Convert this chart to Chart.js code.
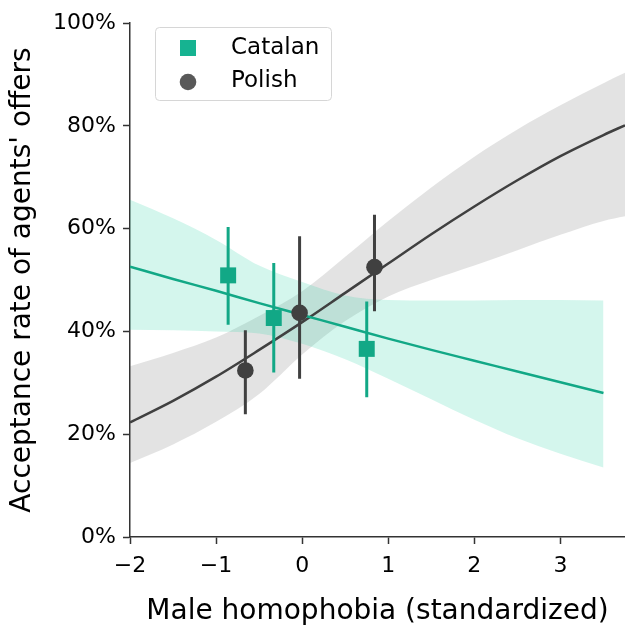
<!DOCTYPE html>
<html>
<head>
<meta charset="utf-8">
<script src="https://cdn.jsdelivr.net/npm/chart.js@4.4.0/dist/chart.umd.min.js"></script>
<style>
  body { margin: 0; background: #fff; }
</style>
</head>
<body>
<canvas id="chart" width="625" height="625"></canvas>
<script>
// fitted curves and confidence bands (percent)
var catGridX = [-2, -1.5, -1, -0.5, 0, 0.5, 1, 1.5, 2, 2.5, 3, 3.5];
var catFit   = [52.6, 50.2, 47.9, 45.5, 43.2, 40.9, 38.6, 36.4, 34.3, 32.2, 30.1, 28.0];
var catUpper = [65.6, 62.0, 57.8, 52.8, 49.6, 47.0, 46.1, 46.0, 46.0, 46.1, 46.1, 46.0];
var catLower = [40.3, 40.2, 40.0, 39.6, 37.6, 34.6, 30.8, 26.8, 22.8, 19.2, 16.2, 13.5];

var polGridX = [-2, -1.5, -1, -0.5, 0, 0.5, 1, 1.5, 2, 2.5, 3, 3.5, 3.75];
var polFit   = [22.3, 26.5, 31.2, 36.4, 41.8, 47.5, 53.2, 58.9, 64.3, 69.4, 74.1, 78.2, 80.1];
var polUpper = [33.2, 35.8, 38.8, 43.0, 47.8, 54.5, 61.5, 68.0, 74.0, 79.3, 84.0, 88.3, 90.3];
var polLower = [14.4, 18.0, 22.4, 27.8, 35.5, 42.0, 46.8, 50.0, 52.8, 55.8, 58.8, 61.5, 62.4];

// binned means with error bars
var catX  = [-0.86, -0.33, 0.75];
var catY  = [50.9, 42.6, 36.6];
var catLo = [41.3, 32.0, 27.2];
var catHi = [60.3, 53.3, 45.8];

var polX  = [-0.66, -0.03, 0.84];
var polY  = [32.4, 43.6, 52.5];
var polLo = [23.9, 30.8, 43.9];
var polHi = [40.2, 58.5, 62.7];

var xTicks = [-2, -1, 0, 1, 2, 3];
var yTicks = [0, 20, 40, 60, 80, 100];
var legendLabels = ["Catalan", "Polish"];

var teal = '#12a886';
var dark = '#404040';
var font = 'DejaVu Sans';

function toPoints(xs, ys){
  return xs.map(function(x, i){ return {x: x, y: ys[i]}; });
}

function errorBars(xs, lo, hi){
  var pts = [];
  for (var i = 0; i < xs.length; i++){
    pts.push({x: xs[i], y: lo[i]});
    pts.push({x: xs[i], y: hi[i]});
    pts.push({x: xs[i], y: null});
  }
  return pts;
}

// legend box drawn inside the plot, top left
var legendBox = {
  id: 'legendBox',
  afterDraw: function(chart){
    var ctx = chart.ctx;
    ctx.save();
    ctx.beginPath();
    ctx.roundRect(155.5, 27.5, 176, 73, 4);
    ctx.fillStyle = 'rgba(255,255,255,0.8)';
    ctx.fill();
    ctx.strokeStyle = '#d6d6d6';
    ctx.lineWidth = 1;
    ctx.stroke();

    ctx.fillStyle = '#16b391';
    ctx.fillRect(180, 40, 16, 16);
    ctx.beginPath();
    ctx.arc(188, 82, 8.3, 0, Math.PI * 2);
    ctx.fillStyle = '#595959';
    ctx.fill();

    ctx.fillStyle = '#000';
    ctx.font = '23px "' + font + '"';
    ctx.textBaseline = 'middle';
    ctx.fillText(legendLabels[0], 231, 48);
    ctx.fillText(legendLabels[1], 231, 81);
    ctx.restore();
  }
};

var ctx = document.getElementById('chart');
var chart = new Chart(ctx, {
  type: 'line',
  data: {
    datasets: [
      { // 0 polish band lower
        data: toPoints(polGridX, polLower),
        borderWidth: 0, pointRadius: 0, fill: false,
        cubicInterpolationMode: 'monotone', order: 20
      },
      { // 1 polish band upper
        data: toPoints(polGridX, polUpper),
        borderWidth: 0, pointRadius: 0,
        fill: '-1', backgroundColor: 'rgba(100,100,100,0.18)',
        cubicInterpolationMode: 'monotone', order: 19
      },
      { // 2 catalan band lower
        data: toPoints(catGridX, catLower),
        borderWidth: 0, pointRadius: 0, fill: false,
        cubicInterpolationMode: 'monotone', order: 18
      },
      { // 3 catalan band upper
        data: toPoints(catGridX, catUpper),
        borderWidth: 0, pointRadius: 0,
        fill: '-1', backgroundColor: 'rgba(38,208,166,0.2)',
        cubicInterpolationMode: 'monotone', order: 17
      },
      {
        data: toPoints(polGridX, polFit),
        borderColor: dark, borderWidth: 2.5, pointRadius: 0,
        cubicInterpolationMode: 'monotone', order: 10
      },
      {
        data: toPoints(catGridX, catFit),
        borderColor: teal, borderWidth: 2.5, pointRadius: 0,
        cubicInterpolationMode: 'monotone', order: 9
      },
      {
        data: errorBars(catX, catLo, catHi),
        borderColor: teal, borderWidth: 3, pointRadius: 0,
        spanGaps: false, order: 5
      },
      {
        data: errorBars(polX, polLo, polHi),
        borderColor: dark, borderWidth: 3, pointRadius: 0,
        spanGaps: false, order: 4
      },
      {
        label: legendLabels[0],
        data: toPoints(catX, catY),
        showLine: false, pointStyle: 'rect', pointRadius: 11.3,
        pointBackgroundColor: teal, pointBorderWidth: 0, order: 1
      },
      {
        label: legendLabels[1],
        data: toPoints(polX, polY),
        showLine: false, pointStyle: 'circle', pointRadius: 8.3,
        pointBackgroundColor: dark, pointBorderWidth: 0, order: 0
      }
    ]
  },
  options: {
    responsive: false,
    animation: false,
    layout: {
      autoPadding: false,
      padding: { top: 23, right: 0, left: 0, bottom: 0 }
    },
    plugins: {
      legend: { display: false },
      tooltip: { enabled: false }
    },
    scales: {
      x: {
        type: 'linear',
        min: -2,
        max: 3.75,
        afterFit: function(scale){
          scale.height = 88;
          scale.paddingLeft = 0;
          scale.paddingRight = 0;
        },
        afterBuildTicks: function(scale){
          scale.ticks = xTicks.map(function(v){ return {value: v}; });
        },
        ticks: {
          color: '#000',
          font: { family: font, size: 22 },
          padding: 9,
          maxRotation: 0,
          callback: function(v){ return String(v).replace('-', '\u2212'); }
        },
        grid: {
          drawOnChartArea: false, drawTicks: true,
          tickLength: 7, tickWidth: 1.5, tickColor: '#333'
        },
        border: { color: '#333', width: 1.5 },
        title: {
          display: true,
          text: 'Male homophobia (standardized)',
          color: '#000',
          font: { family: font, size: 28 },
          padding: { top: 0, bottom: -4 }
        }
      },
      y: {
        min: 0,
        max: 100,
        afterFit: function(scale){
          scale.width = 130;
          scale.paddingTop = 0;
          scale.paddingBottom = 0;
        },
        afterBuildTicks: function(scale){
          scale.ticks = yTicks.map(function(v){ return {value: v}; });
        },
        ticks: {
          color: '#000',
          font: { family: font, size: 22 },
          padding: 7,
          callback: function(v){ return v + '%'; }
        },
        grid: {
          drawOnChartArea: false, drawTicks: true,
          tickLength: 7, tickWidth: 1.5, tickColor: '#333'
        },
        border: { color: '#333', width: 1.5 },
        title: {
          display: true,
          text: "Acceptance rate of agents' offers",
          color: '#000',
          font: { family: font, size: 28 },
          padding: { top: 6, bottom: 0 }
        }
      }
    }
  },
  plugins: [legendBox]
});
</script>
</body>
</html>
